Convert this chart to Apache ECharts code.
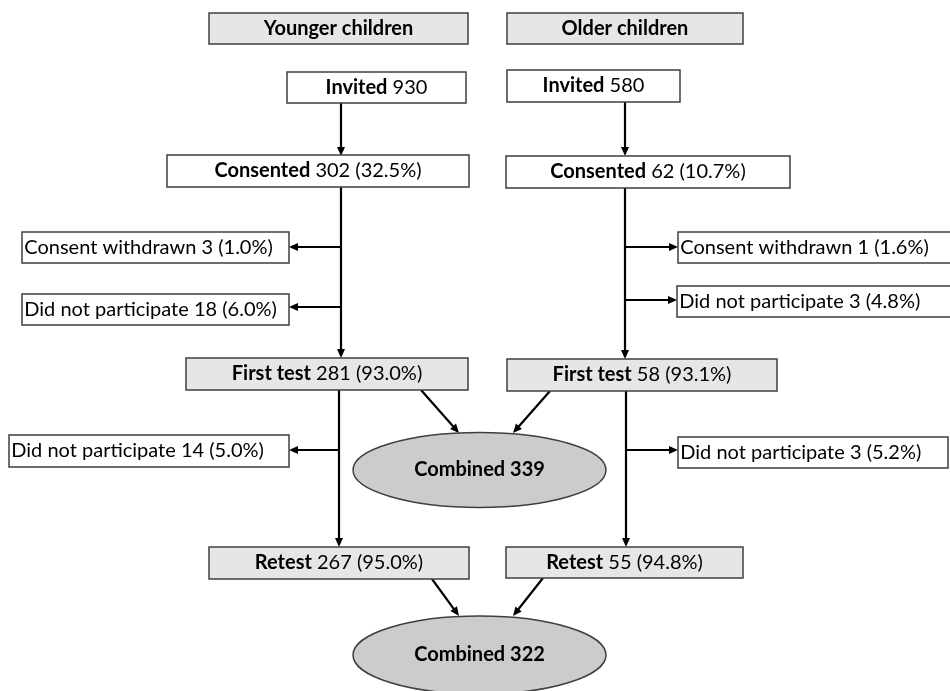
<!DOCTYPE html>
<html><head><meta charset="utf-8">
<script src="https://cdn.jsdelivr.net/npm/echarts@6/dist/echarts.min.js"></script>
<style>html,body{margin:0;padding:0;background:#fff}#c{width:950px;height:691px}</style>
</head><body><div id="c"></div>
<script>
// ---------------- data ----------------
const groupNames = ['Younger children', 'Older children'];
const stageNames = ['Invited', 'Consented', 'First test', 'Retest'];
const youngerCounts = [930, 302, 281, 267];
const youngerPct = ['', '32.5%', '93.0%', '95.0%'];
const olderCounts = [580, 62, 58, 55];
const olderPct = ['', '10.7%', '93.1%', '94.8%'];
const dropoutNames = ['Consent withdrawn', 'Did not participate', 'Did not participate'];
const youngerDropCounts = [3, 18, 14];
const youngerDropPct = ['1.0%', '6.0%', '5.0%'];
const olderDropCounts = [1, 3, 3];
const olderDropPct = ['1.6%', '4.8%', '5.2%'];
const combinedName = 'Combined';
const combinedCounts = [339, 322];

// ---------------- layout (pixel units on hidden axes) ----------------
const headerPos = [[209, 13, 468, 44], [507, 13, 743, 44]];
const youngerStagePos = [[287, 72, 466, 103], [167, 155, 469, 187], [186, 358, 468, 390], [209, 547, 469, 579]];
const olderStagePos = [[507, 70, 680, 102], [506, 156, 790, 188], [507, 359, 777, 391], [506, 547, 743, 578]];
const youngerDropPos = [[22, 232, 289, 263], [22, 294, 289, 325], [9, 435, 289, 467]];
const olderDropPos = [[678, 232, 958, 263], [677, 286, 958, 317], [678, 437, 948, 468]];
const ellipsePos = [[479.5, 470, 126.5, 37.5], [479.5, 655, 126.5, 39]];
const arrowPos = [
  [341, 103, 341, 156], [341, 187, 341, 358], [341, 247, 289, 247], [341, 307, 289, 307],
  [421, 390, 459, 433], [339, 390, 339, 547], [339, 450, 289, 450], [432, 579, 459, 616],
  [625, 102, 625, 156], [625, 188, 625, 359], [625, 247, 678, 247], [625, 300, 677, 300],
  [550, 391, 513, 433], [626, 391, 626, 547], [626, 450, 678, 450], [543, 578, 513, 616]
];

const FONT = 'Lato';
const FS = 20;
const GRAY = '#e6e6e6';
const WHITE = '#ffffff';
const STROKE = '#3f3f3f';

// ---------------- build boxes ----------------
const boxes = [];
groupNames.forEach((g, i) => boxes.push({ pos: headerPos[i], text: '{b|' + g + '}', fill: GRAY, align: 'center' }));
function stageText(i, n, p) { return '{b|' + stageNames[i] + '} ' + n + (p ? ' (' + p + ')' : ''); }
stageNames.forEach((s, i) => {
  const fill = i >= 2 ? GRAY : WHITE;
  boxes.push({ pos: youngerStagePos[i], text: stageText(i, youngerCounts[i], youngerPct[i]), fill, align: 'center' });
  boxes.push({ pos: olderStagePos[i], text: stageText(i, olderCounts[i], olderPct[i]), fill, align: 'center' });
});
dropoutNames.forEach((d, i) => {
  boxes.push({ pos: youngerDropPos[i], text: d + ' ' + youngerDropCounts[i] + ' (' + youngerDropPct[i] + ')', fill: WHITE, align: 'left' });
  boxes.push({ pos: olderDropPos[i], text: d + ' ' + olderDropCounts[i] + ' (' + olderDropPct[i] + ')', fill: WHITE, align: 'left' });
});
const ellipses = combinedCounts.map((c, i) => ({ pos: ellipsePos[i], text: '{b|' + combinedName + ' ' + c + '}' }));

const rich = { b: { fontWeight: 'bold', fontFamily: FONT, fontSize: FS, fill: '#000' } };

const chart = echarts.init(document.getElementById('c'), null, { renderer: 'canvas' });
chart.setOption({
  animation: false,
  backgroundColor: '#ffffff',
  grid: { left: 0, right: 0, top: 0, bottom: 0 },
  xAxis: { type: 'value', min: 0, max: 950, show: false },
  yAxis: { type: 'value', min: 0, max: 691, inverse: true, show: false },
  series: [
    {
      type: 'custom', silent: true, clip: false, z: 2,
      data: arrowPos,
      renderItem: function (params, api) {
        const a = api.coord([api.value(0), api.value(1)]);
        const b = api.coord([api.value(2), api.value(3)]);
        const dx = b[0] - a[0], dy = b[1] - a[1];
        const len = Math.sqrt(dx * dx + dy * dy);
        const ux = dx / len, uy = dy / len;
        const hl = 9, hw = 4;
        const base = [b[0] - ux * hl, b[1] - uy * hl];
        return {
          type: 'group',
          children: [
            { type: 'line', shape: { x1: a[0], y1: a[1], x2: base[0] + ux, y2: base[1] + uy },
              style: { stroke: '#000', lineWidth: 2.2 } },
            { type: 'polygon', shape: { points: [[b[0], b[1]], [base[0] - uy * hw, base[1] + ux * hw], [base[0] + uy * hw, base[1] - ux * hw]] },
              style: { fill: '#000' } }
          ]
        };
      }
    },
    {
      type: 'custom', silent: true, clip: false, z: 3,
      data: boxes.map(b => b.pos),
      renderItem: function (params, api) {
        const bx = boxes[params.dataIndex];
        const p0 = api.coord([api.value(0), api.value(1)]);
        const p1 = api.coord([api.value(2), api.value(3)]);
        return {
          type: 'rect',
          shape: { x: p0[0], y: p0[1], width: p1[0] - p0[0], height: p1[1] - p0[1] },
          style: { fill: bx.fill, stroke: STROKE, lineWidth: 1.5 },
          textContent: {
            style: { text: bx.text, rich: rich, fontFamily: FONT, fontSize: FS, fill: '#000' }
          },
          textConfig: bx.align === 'left' ? { position: 'insideLeft', distance: 3 } : { position: 'inside' }
        };
      }
    },
    {
      type: 'custom', silent: true, clip: false, z: 3,
      data: ellipses.map(e => e.pos),
      renderItem: function (params, api) {
        const el = ellipses[params.dataIndex];
        const c = api.coord([api.value(0), api.value(1)]);
        const e = api.coord([api.value(0) + api.value(2), api.value(1) + api.value(3)]);
        return {
          type: 'ellipse',
          shape: { cx: c[0], cy: c[1], rx: e[0] - c[0], ry: e[1] - c[1] },
          style: { fill: '#cccccc', stroke: STROKE, lineWidth: 1.5 },
          textContent: {
            style: { text: el.text, rich: rich, fontFamily: FONT, fontSize: FS, fill: '#000' }
          },
          textConfig: { position: 'inside' }
        };
      }
    }
  ]
});
</script>
</body></html>
